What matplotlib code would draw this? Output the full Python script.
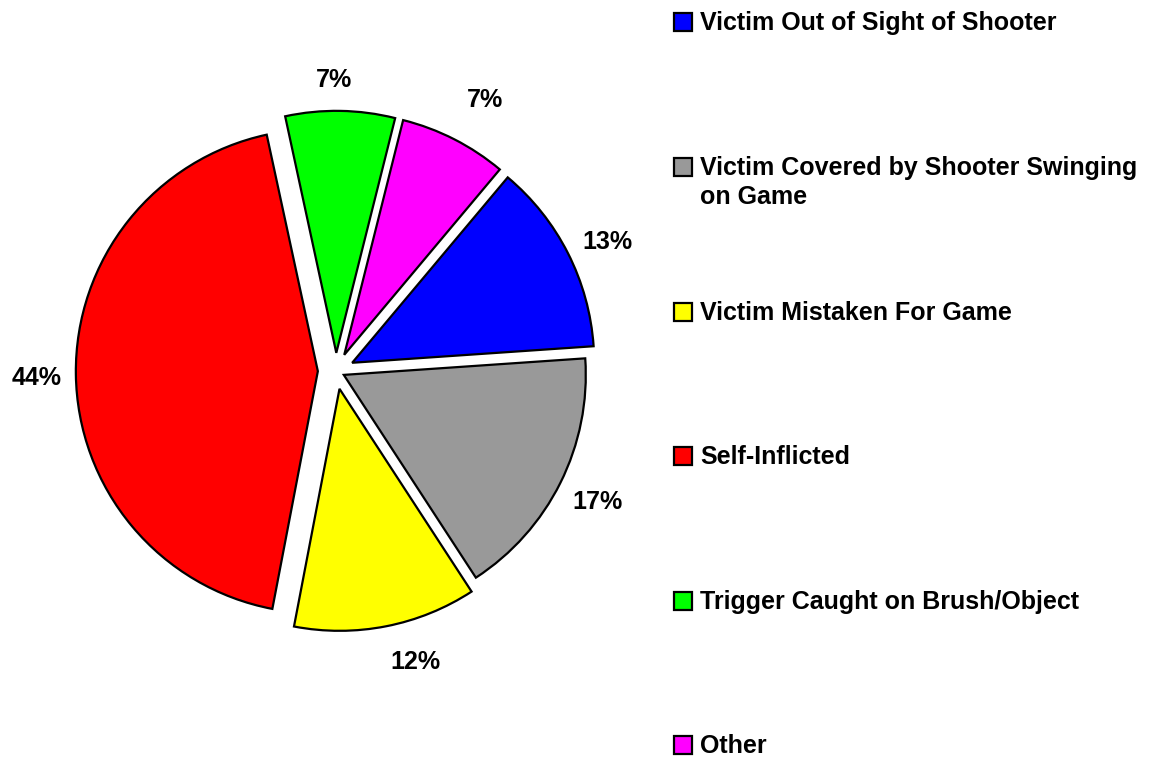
import matplotlib.pyplot as plt
from matplotlib.patches import Rectangle

plt.rcParams['font.family'] = ['Liberation Sans', 'DejaVu Sans']

labels = ["Victim Out of Sight of Shooter",
          "Victim Covered by Shooter Swinging\non Game",
          "Victim Mistaken For Game",
          "Self-Inflicted",
          "Trigger Caught on Brush/Object",
          "Other"]
values = [12.8, 16.9, 12.2, 43.6, 7.3, 7.2]
colors = ["#0000ff", "#999999", "#ffff00", "#ff0000", "#00ff00", "#ff00ff"]
explode = [0.075, 0.036, 0.075, 0.075, 0.075, 0.075]

W, H = 1155, 759
fig = plt.figure(figsize=(W / 100, H / 100), dpi=100)
ax = fig.add_axes([0, 0, 1, 1])

# pie: center at (336, 371) px, radius 242 px
r_px = 242
cx, cy = 336, 371
wedges, texts, autotexts = ax.pie(
    values, colors=colors, startangle=50, counterclock=False,
    explode=explode, autopct='%1.0f%%', pctdistance=1.15,
    wedgeprops=dict(edgecolor='black', linewidth=1.6),
    textprops=dict(fontsize=18, fontweight='bold', color='black'))

# small nudges (px, x right / y up) so labels sit where Excel put them
nudge = [(7, -5), (5, -3), (22, 0), (-3, -3), (-7, -5), (14, 7)]
for t, (dx, dy) in zip(autotexts, nudge):
    x, y = t.get_position()
    t.set_position((x + dx / r_px, y + dy / r_px))

ax.set_xlim(-cx / r_px, (W - cx) / r_px)
ax.set_ylim(-(H - cy) / r_px, cy / r_px)
ax.set_aspect('auto')
ax.axis('off')

# legend drawn on the right, one entry per category
baselines = [30, 175, 320, 464, 609, 753]
line_step = 29
for lab, col, yb in zip(labels, colors, baselines):
    fig.patches.append(Rectangle((674 / W, 1 - (yb + 1) / H), 18 / W, 18 / H,
                                 transform=fig.transFigure, facecolor=col,
                                 edgecolor='black', linewidth=1.6))
    for i, line in enumerate(lab.split('\n')):
        fig.text(700 / W, 1 - (yb + i * line_step) / H, line, fontsize=18,
                 fontweight='bold', va='baseline', ha='left')

fig.savefig('out.png', dpi=100)
